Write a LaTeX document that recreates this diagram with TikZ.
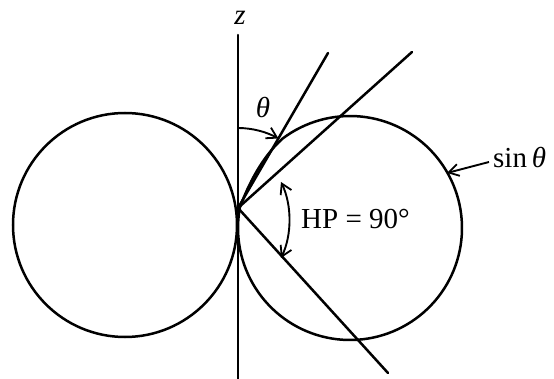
\documentclass[tikz,border=0pt]{standalone}
\usepackage{fontspec}
\setmainfont{Liberation Serif}
\usetikzlibrary{arrows.meta}
\begin{document}
\begin{tikzpicture}[x=1pt,y=-1pt,
  thick line/.style={line width=2.5pt, line cap=round},
  thin line/.style={line width=1.9pt},
  barb/.style={-{Straight Barb[length=10pt,width=12pt,line width=1.8pt]}},
  dbarb/.style={{Straight Barb[length=10pt,width=12pt,line width=1.8pt]}-{Straight Barb[length=10pt,width=12pt,line width=1.8pt]}},
  lbl/.style={inner sep=0pt, font=\fontsize{29}{32}\selectfont}]
\useasboundingbox (0,0) rectangle (554,379);
% coordinates
\coordinate (O) at (238,208);
\coordinate (Ztop) at (238,35);
\coordinate (Zbot) at (238,379);
\coordinate (T) at (328,53);
\coordinate (U) at (412,52);
\coordinate (L) at (388,373);
\coordinate (ThA) at (238,128);
\coordinate (ThB) at (278.5,138.5);
\coordinate (HPa) at (281,182);
\coordinate (HPb) at (281,258);
\coordinate (SinA) at (489,162);
\coordinate (SinB) at (447,173);
% z axis
\draw[thick line] (Zbot) -- (Ztop);
% left lobe
\draw[thick line] (125,225) circle[radius=112];
% right lobe
\draw[thick line, line join=round] (239.5,208.5) .. controls (248,185) and (262,157) .. (282.6,138.6)
  -- plot[domain=-127:190, samples=120] ({350+112*cos(\x)}, {228+112*sin(\x)});
% lines
\draw[thick line] (O) -- (T);
\draw[thick line] (O) -- (U);
\draw[thick line] (O) -- (L);
% theta arrow
\draw[thin line, barb] (ThA) .. controls (252,128) and (265.8,131.7) .. (ThB);
% HP arrow
\draw[thin line, dbarb] (HPa) .. controls (292,205) and (292,235) .. (HPb);
% sin theta arrow
\draw[thin line, barb] (SinA) -- (SinB);
% labels
\node[lbl] (zl) at (240,18) {\textit{z}};
\node[lbl] (thl) at (263,108) {\textit{θ}};
\node[lbl, anchor=west] (hpl) at (301,219) {HP = 90°};
\node[lbl, anchor=west] (sinl) at (493,158) {sin\,\textit{θ}};
\end{tikzpicture}
\end{document}
